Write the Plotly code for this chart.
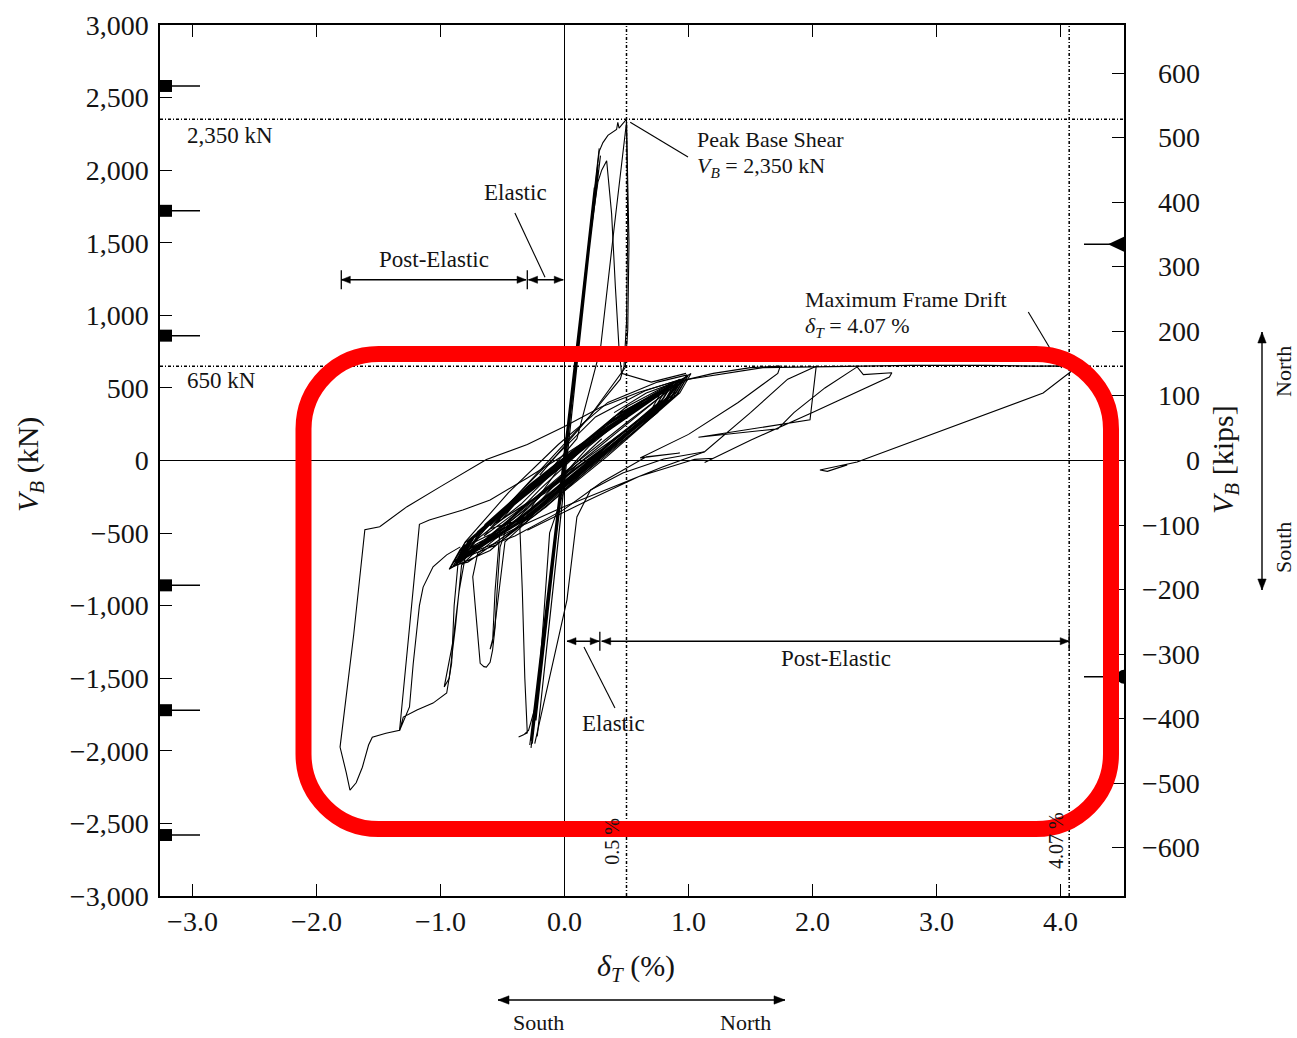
import plotly.graph_objects as go

# ---------------------------------------------------------------------------
# Axis definitions
# ---------------------------------------------------------------------------
X_RANGE = [-3.262, 4.512]          # roof drift, %
Y_RANGE = [-3000, 3000]            # base shear, kN
KN_TO_KIPS = 0.224809

x_ticks = [-3, -2, -1, 0, 1, 2, 3, 4]
x_tick_text = ["−3.0", "−2.0", "−1.0", "0.0", "1.0", "2.0", "3.0", "4.0"]
kn_ticks = [-3000, -2500, -2000, -1500, -1000, -500, 0, 500, 1000, 1500, 2000, 2500, 3000]
kn_tick_text = ["−3,000", "−2,500", "−2,000", "−1,500", "−1,000", "−500", "0",
                "500", "1,000", "1,500", "2,000", "2,500", "3,000"]
kips_ticks = [-600, -500, -400, -300, -200, -100, 0, 100, 200, 300, 400, 500, 600]
kips_tick_text = ["−600", "−500", "−400", "−300", "−200", "−100", "0",
                  "100", "200", "300", "400", "500", "600"]

# Reference levels
peak_shear_kN = 2350
plateau_shear_kN = 650
elastic_limit_drift = 0.5
max_drift = 4.07
capacity_levels_kN = [2580, 1720, 860, -860, -1720, -2580]
right_levels_kN = [1490, -1490]

# Elastic / post-elastic ranges (drift %)
south_post_elastic = [-1.80, -0.31]
south_elastic = [-0.29, -0.01]
north_elastic = [0.02, 0.28]
north_post_elastic = [0.30, 4.07]
range_arrow_kN = [1245, -1245]

# ---------------------------------------------------------------------------
# Measured hysteresis: drift (%) vs base shear (kN), by stage
# ---------------------------------------------------------------------------
elastic_drift = [0.00, 0.06, -0.05, 0.10, -0.09, 0.14, -0.13, 0.18, -0.17, 0.22, -0.21,
                 0.25, -0.24, 0.27, -0.26, 0.28, -0.27, 0.26, -0.25, 0.29, -0.28, 0.27,
                 -0.23, 0.24, -0.26, 0.25, -0.22, 0.27, -0.27, 0.02]
elastic_shear = [0, 480, -330, 800, -620, 1090, -910, 1400, -1200, 1700, -1500,
                 1930, -1720, 2060, -1870, 2150, -1930, 1990, -1840, 2100, -1960, 2040,
                 -1790, 1880, -1950, 1860, -1900, 2000, -1980, 80]

peak_drift = [0.02, 0.15, 0.28, 0.31, 0.35, 0.40, 0.42, 0.43, 0.44, 0.47, 0.50, 0.51,
              0.50, 0.48, 0.45, 0.20, -0.10, -0.45, -0.80]
peak_shear = [80, 1150, 2130, 2190, 2240, 2270, 2280, 2330, 2290, 2320, 2350, 1600,
              950, 650, 560, 300, 20, -300, -620]

second_peak_drift = [-0.26, -0.10, 0.05, 0.20, 0.27, 0.30, 0.34, 0.38, 0.41, 0.44, 0.46,
                     0.70, 0.98]
second_peak_shear = [-1900, -750, 380, 1500, 1920, 2000, 2065, 1700, 1200, 770, 600,
                     540, 600]

third_peak_drift = [-0.60, -0.20, 0.10, 0.29, 0.40, 0.50, 0.52, 0.51, 0.49, 0.20, -0.20]
third_peak_shear = [-450, -150, 150, 770, 1600, 2330, 1500, 900, 640, 300, -100]

band_drift = [-0.87, -0.78, -0.31, 0.29, 0.95, 0.86, 0.31, -0.29,
              -0.80, -0.71, -0.28, 0.32, 0.88, 0.80, 0.28, -0.32,
              -0.90, -0.81, -0.33, 0.27, 1.00, 0.91, 0.33, -0.27,
              -0.84, -0.75, -0.30, 0.30, 0.92, 0.83, 0.30, -0.30,
              -0.76, -0.67, -0.27, 0.33, 0.82, 0.74, 0.27, -0.33,
              -0.88, -0.79, -0.32, 0.28, 0.97, 0.88, 0.32, -0.28,
              -0.82, -0.73, -0.29, 0.31, 0.90, 0.82, 0.29, -0.31,
              -0.93, -0.84, -0.34, 0.26, 1.02, 0.93, 0.34, -0.26,
              -0.79, -0.70, -0.26, 0.34, 0.85, 0.77, 0.26, -0.34,
              -0.86, -0.77, -0.30, 0.30, 0.94, 0.85, 0.30, -0.30,
              -0.72, -0.64, -0.28, 0.32, 0.78, 0.71, 0.28, -0.32,
              -0.89, -0.80, -0.31, 0.29, 0.99, 0.90, 0.31, -0.29,
              -0.60, -0.50, -0.10, 0.40, 0.90, 0.82, 0.40, -0.10,
              -0.55, -0.45, -0.05, 0.45, 0.86, 0.78, 0.45, -0.05,
              -0.65, -0.55, -0.15, 0.35, 0.93, 0.84, 0.35, -0.15,
              -0.50, -0.40, 0.00, 0.50, 0.88, 0.80, 0.50, 0.00, -0.85]
band_shear = [-700, -560, -210, 190, 560, 430, 30, -390,
              -640, -500, -175, 215, 520, 400, 40, -380,
              -730, -590, -245, 160, 590, 455, 30, -385,
              -680, -540, -200, 200, 545, 420, 40, -380,
              -600, -470, -160, 235, 490, 380, 50, -370,
              -710, -575, -230, 175, 570, 440, 40, -380,
              -660, -520, -190, 210, 530, 410, 40, -385,
              -750, -610, -260, 150, 600, 465, 25, -390,
              -620, -490, -165, 230, 505, 390, 40, -380,
              -700, -560, -210, 195, 555, 425, 35, -385,
              -560, -440, -165, 240, 470, 365, 50, -375,
              -690, -565, -215, 185, 580, 450, 35, -390,
              -470, -380, -60, 300, 530, 420, 140, -180,
              -430, -340, -20, 330, 520, 410, 170, -140,
              -520, -420, -100, 260, 560, 440, 110, -220,
              -400, -300, 20, 370, 540, 430, 210, -90, -690]

# wider, looser cycles around the dense band
wide_band_drift = [-0.85, -0.70, -0.35, 0.05, 0.50, 0.80, 0.97, 0.90, 0.55, 0.10, -0.30, -0.60,
                   -0.92, -0.80, -0.45, -0.05, 0.35, 0.75, 0.99, 0.85, 0.40, 0.00, -0.40, -0.78,
                   -0.88, -0.60, -0.20, 0.25, 0.65, 0.94, 0.75, 0.30, -0.15, -0.55, -0.90]
wide_band_shear = [-700, -540, -300, 40, 350, 500, 570, 470, 230, -90, -400, -620,
                   -740, -560, -220, 110, 400, 540, 590, 450, 150, -180, -470, -700,
                   -720, -430, -80, 300, 480, 560, 330, 20, -320, -580, -700]

south_outer_drift = [0.95, 0.60, 0.30, 0.00, -0.30, -0.63, -1.00, -1.27, -1.49, -1.61,
                     -1.70, -1.81, -1.76, -1.73, -1.68, -1.63, -1.58, -1.55, -1.44, -1.33,
                     -1.25, -1.17, -1.09, -0.82, -0.60, -0.30, 0.00, 0.40, 0.80]
south_outer_shear = [560, 470, 370, 235, 110, 7, -180, -318, -456, -477,
                     -1200, -1974, -2150, -2270, -2220, -2113, -1960, -1906, -1879, -1858,
                     -1150, -440, -410, -341, -272, -120, 40, 260, 470]

south_mid_drift = [-0.84, -0.95, -1.06, -1.14, -1.17, -1.19, -1.22, -1.25, -1.30, -1.33,
                   -1.30, -1.19, -1.06, -0.95, -0.91, -0.89, -0.86, -0.60, -0.30, 0.00,
                   0.50, 0.90]
south_mid_shear = [-595, -650, -732, -872, -1000, -1147, -1400, -1698, -1800, -1860,
                   -1767, -1719, -1671, -1602, -1395, -1000, -720, -520, -300, -80,
                   260, 520]

south_dip_c_drift = [-0.30, -0.60, -0.80, -0.85, -0.90, -0.95, -0.97, -0.93, -0.88, -0.83,
                     -0.50, 0.00, 0.50, 0.92]
south_dip_c_shear = [-330, -520, -660, -900, -1250, -1480, -1560, -1500, -1150, -720,
                     -450, -100, 250, 540]

south_dip_b_drift = [-0.20, -0.50, -0.70, -0.74, -0.72, -0.70, -0.68, -0.65, -0.63, -0.60,
                     -0.58, -0.56, -0.55, -0.52, -0.45, -0.20, 0.20, 0.60]
south_dip_b_shear = [-250, -500, -640, -801, -1000, -1190, -1397, -1420, -1423, -1390,
                     -1306, -1150, -983, -596, -420, -200, 120, 380]

south_dip_b2_drift = [0.30, -0.20, -0.52, -0.56, -0.58, -0.60, -0.57, -0.53, -0.48, -0.30, 0.10]
south_dip_b2_shear = [150, -250, -480, -900, -1250, -1300, -1200, -900, -560, -420, -30]

south_dip_a_drift = [0.40, 0.00, -0.25, -0.36, -0.34, -0.32, -0.30, -0.37, -0.33, -0.29,
                     -0.22, -0.17, -0.12, 0.00, 0.40, 0.80]
south_dip_a_shear = [300, 0, -300, -460, -900, -1500, -1877, -1905, -1890, -1860,
                     -1650, -1100, -499, -200, 120, 400]

reload_curve_drift = [-0.24, -0.15, -0.06, 0.02, 0.10, 0.21, 0.47, 0.80, 1.13]
reload_curve_shear = [-1950, -1600, -1250, -960, -389, -203, -86, 10, 60]

north_1_drift = [0.40, 0.66, 0.90, 1.20, 1.50, 1.74, 1.72, 1.40, 1.00, 0.61, 0.93, 0.66,
                 0.30, -0.01, -0.40, -0.80]
north_1_shear = [330, 465, 540, 600, 640, 650, 600, 400, 180, 18, 52, 25,
                 -150, -340, -520, -650]

north_2_drift = [-0.80, -0.40, -0.01, 0.40, 0.79, 1.13, 1.50, 1.80, 2.03, 1.98, 1.08, 1.72,
                 1.85, 2.10, 2.36, 2.41, 2.64, 2.62, 2.00, 1.50, 1.13, 1.20, 1.05, 0.60,
                 0.20, -0.30]
north_2_shear = [-640, -470, -320, -180, -45, 60, 330, 560, 650, 280, 160, 218,
                 330, 500, 645, 592, 604, 575, 330, 140, -14, 15, 8, -110,
                 -270, -480]

north_3_drift = [-0.30, 0.20, 0.60, 1.00, 1.60, 2.20, 2.80, 3.40, 3.80, 4.07, 4.08, 3.86,
                 3.00, 2.36, 2.06, 2.12, 2.28]
north_3_shear = [-380, 100, 380, 560, 640, 650, 655, 655, 650, 652, 610, 465,
                 190, -10, -65, -75, -30]

stages = [
    (elastic_drift, elastic_shear),
    (peak_drift, peak_shear),
    (second_peak_drift, second_peak_shear),
    (third_peak_drift, third_peak_shear),
    (band_drift, band_shear),
    (wide_band_drift, wide_band_shear),
    (south_outer_drift, south_outer_shear),
    (south_mid_drift, south_mid_shear),
    (south_dip_c_drift, south_dip_c_shear),
    (south_dip_b_drift, south_dip_b_shear),
    (south_dip_b2_drift, south_dip_b2_shear),
    (south_dip_a_drift, south_dip_a_shear),
    (reload_curve_drift, reload_curve_shear),
    (north_1_drift, north_1_shear),
    (north_2_drift, north_2_shear),
    (north_3_drift, north_3_shear),
]

# ---------------------------------------------------------------------------
# Page geometry (pixels)
# ---------------------------------------------------------------------------
FIG_W, FIG_H = 1297, 1038
PLOT_L, PLOT_T, PLOT_W, PLOT_H = 160, 25, 964, 871
KN_PER_PX = (Y_RANGE[1] - Y_RANGE[0]) / PLOT_H
DRIFT_PER_PX = (X_RANGE[1] - X_RANGE[0]) / PLOT_W

FONT = "Liberation Serif"
INK = "#141414"


def px_x(px):
    return (px - PLOT_L) / PLOT_W


def px_y(py):
    return (PLOT_T + PLOT_H - py) / PLOT_H


fig = go.Figure()

for d, v in stages:
    fig.add_trace(go.Scatter(x=d, y=v, mode="lines",
                             line=dict(color="black", width=1.1),
                             hoverinfo="skip", showlegend=False))

# keeps the kips axis alive
fig.add_trace(go.Scatter(x=[X_RANGE[1]], y=[0], yaxis="y2", mode="markers",
                         marker=dict(opacity=0), hoverinfo="skip", showlegend=False))

shapes = []
dash = "3px,2px,1px,2px"
for lv in (peak_shear_kN, plateau_shear_kN):
    shapes.append(dict(type="line", xref="paper", yref="y", x0=0, x1=1, y0=lv, y1=lv,
                       line=dict(color="black", width=1.5, dash=dash)))
for dv in (elastic_limit_drift, max_drift):
    shapes.append(dict(type="line", xref="x", yref="paper", x0=dv, x1=dv, y0=0, y1=1,
                       line=dict(color="black", width=1.5, dash=dash)))

# capacity markers on the kN axis
for lv in capacity_levels_kN:
    shapes.append(dict(type="line", xref="paper", yref="y", x0=0, x1=px_x(PLOT_L + 40),
                       y0=lv, y1=lv, line=dict(color="black", width=1.5)))
    shapes.append(dict(type="rect", xref="paper", yref="y", x0=0, x1=px_x(PLOT_L + 12),
                       y0=lv - 6 * KN_PER_PX, y1=lv + 6 * KN_PER_PX,
                       line=dict(width=0), fillcolor="black"))

# markers on the kips axis
for lv in right_levels_kN:
    shapes.append(dict(type="line", xref="paper", yref="y", x0=px_x(PLOT_L + PLOT_W - 40),
                       x1=1, y0=lv, y1=lv, line=dict(color="black", width=1.5)))
tip = px_x(PLOT_L + PLOT_W - 16)
h = 7.5 * KN_PER_PX
shapes.append(dict(type="path", xref="paper", yref="y",
                   path=f"M 1 {right_levels_kN[0] + h} L {tip} {right_levels_kN[0]} "
                        f"L 1 {right_levels_kN[0] - h} Z",
                   fillcolor="black", line=dict(width=0)))
rx = 7 / PLOT_W
ry = 7 * KN_PER_PX
c = right_levels_kN[1]
k = 0.5523
shapes.append(dict(type="path", xref="paper", yref="y",
                   path=(f"M 1 {c + ry} C {1 - k * rx} {c + ry} {1 - rx} {c + k * ry} {1 - rx} {c} "
                         f"C {1 - rx} {c - k * ry} {1 - k * rx} {c - ry} 1 {c - ry} Z"),
                   fillcolor="black", line=dict(width=0)))

# bracket ticks on the elastic / post-elastic range arrows
for dv, lv in ((south_post_elastic[0], range_arrow_kN[0]), (south_post_elastic[1] + 0.01, range_arrow_kN[0]),
               (north_elastic[1] + 0.005, range_arrow_kN[1]), (north_post_elastic[1], range_arrow_kN[1])):
    shapes.append(dict(type="line", xref="x", yref="y", x0=dv, x1=dv,
                       y0=lv - 65, y1=lv + 65, line=dict(color="black", width=1.3)))

# leader lines
leaders = [(-0.40, 1705, -0.157, 1262), (0.53, 2330, 0.996, 2091),
           (0.157, -1285, 0.407, -1705), (3.74, 1023, 4.01, 637)]
for x0, y0, x1, y1 in leaders:
    shapes.append(dict(type="line", xref="x", yref="y", x0=x0, y0=y0, x1=x1, y1=y1,
                       line=dict(color="black", width=1.1)))


def double_arrow(x0, y0, x1, y1, xref, yref, xpp, ypp, head=9.0, half=3.6):
    """Line with a filled head at both ends; xpp/ypp are axis units per pixel."""
    shapes.append(dict(type="line", xref=xref, yref=yref, x0=x0, y0=y0, x1=x1, y1=y1,
                       line=dict(color="black", width=1.4)))
    # direction in pixel space
    dxp = (x1 - x0) / xpp
    dyp = (y1 - y0) / ypp
    length = (dxp ** 2 + dyp ** 2) ** 0.5
    ux, uy = dxp / length, dyp / length
    for (tx, ty), sgn in (((x1, y1), 1), ((x0, y0), -1)):
        bx = tx - sgn * ux * head * xpp
        by = ty - sgn * uy * head * ypp
        px_, py_ = -uy * half, ux * half
        path = (f"M {tx} {ty} L {bx + px_ * xpp} {by + py_ * ypp} "
                f"L {bx - px_ * xpp} {by - py_ * ypp} Z")
        shapes.append(dict(type="path", xref=xref, yref=yref, path=path,
                           fillcolor="black", line=dict(color="black", width=0.5)))


double_arrow(south_post_elastic[0], range_arrow_kN[0], south_post_elastic[1], range_arrow_kN[0],
             "x", "y", DRIFT_PER_PX, KN_PER_PX)
double_arrow(south_elastic[0], range_arrow_kN[0], south_elastic[1], range_arrow_kN[0],
             "x", "y", DRIFT_PER_PX, KN_PER_PX)
double_arrow(north_elastic[0], range_arrow_kN[1], north_elastic[1], range_arrow_kN[1],
             "x", "y", DRIFT_PER_PX, KN_PER_PX)
double_arrow(north_post_elastic[0], range_arrow_kN[1], north_post_elastic[1], range_arrow_kN[1],
             "x", "y", DRIFT_PER_PX, KN_PER_PX)
# direction keys outside the plot
double_arrow(px_x(498), px_y(1000), px_x(785), px_y(1000), "paper", "paper",
             1 / PLOT_W, 1 / PLOT_H, head=11, half=4.2)
double_arrow(px_x(1262), px_y(332), px_x(1262), px_y(590), "paper", "paper",
             1 / PLOT_W, 1 / PLOT_H, head=11, half=4.2)


def rounded_rect(left, top, right, bottom, r):
    kk = 0.5523 * r
    pts = [("M", [(left + r, top)]),
           ("L", [(right - r, top)]),
           ("C", [(right - r + kk, top), (right, top + r - kk), (right, top + r)]),
           ("L", [(right, bottom - r)]),
           ("C", [(right, bottom - r + kk), (right - r + kk, bottom), (right - r, bottom)]),
           ("L", [(left + r, bottom)]),
           ("C", [(left + r - kk, bottom), (left, bottom - r + kk), (left, bottom - r)]),
           ("L", [(left, top + r)]),
           ("C", [(left, top + r - kk), (left + r - kk, top), (left + r, top)])]
    out = []
    for cmd, ps in pts:
        out.append(cmd + " " + " ".join(f"{px_x(a):.5f},{px_y(b):.5f}" for a, b in ps))
    return " ".join(out) + " Z"


shapes.append(dict(type="path", xref="paper", yref="paper", layer="above",
                   path=rounded_rect(303.5, 354, 1111, 829, 75),
                   line=dict(color="#ff0000", width=16)))

ann = []


def label(x, y, text, size=23, xanchor="center", xref="x", yref="y", angle=0):
    ann.append(dict(x=x, y=y, xref=xref, yref=yref, text=text, showarrow=False,
                    xanchor=xanchor, yanchor="middle", textangle=angle,
                    font=dict(family=FONT, size=size, color=INK)))


label(px_x(185), 2242, "2,350 kN", xanchor="left", xref="paper")
label(px_x(185), 548, "650 kN", xanchor="left", xref="paper")
label(1.052, 2208, "Peak Base Shear", size=22, xanchor="left")
label(1.052, 2022, "<i>V</i><sub><i>B</i></sub> = 2,350 kN", size=22, xanchor="left")
label(-0.399, 1843, "Elastic")
label(-1.052, 1388, "Post-Elastic")
label(1.923, 1108, "Maximum Frame Drift", size=22, xanchor="left")
label(1.923, 920, "<i>δ</i><sub><i>T</i></sub> = 4.07 %", size=22, xanchor="left")
label(2.19, -1361, "Post-Elastic")
label(0.399, -1815, "Elastic")
label(0.383, -2620, "0.5 %", size=20, angle=-90)
label(3.964, -2620, "4.07 %", size=20, angle=-90)

# kips tick labels, right aligned
for kv, kt in zip(kips_ticks, kips_tick_text):
    ann.append(dict(x=px_x(1202), y=kv, xref="paper", yref="y2", text=kt, showarrow=False,
                    xanchor="right", yanchor="middle",
                    font=dict(family=FONT, size=28, color=INK)))

# axis titles and direction labels
label(px_x(636), px_y(968), "<i>δ</i><sub><i>T</i></sub> (%)", size=30,
      xref="paper", yref="paper")
label(px_x(30), px_y(465), "<i>V</i><sub><i>B</i></sub> (kN)", size=30,
      xref="paper", yref="paper", angle=-90)
label(px_x(1225), px_y(460), "<i>V</i><sub><i>B</i></sub> [kips]", size=30,
      xref="paper", yref="paper", angle=-90)
label(px_x(538), px_y(1022), "South", size=22, xref="paper", yref="paper")
label(px_x(745), px_y(1022), "North", size=22, xref="paper", yref="paper")
label(px_x(1283), px_y(372), "North", size=22, xref="paper", yref="paper", angle=-90)
label(px_x(1283), px_y(548), "South", size=22, xref="paper", yref="paper", angle=-90)

axis_common = dict(showgrid=False, showline=True, linecolor="black", linewidth=1.5,
                   ticks="inside", ticklen=12, tickwidth=1.4, tickcolor="black",
                   tickfont=dict(family=FONT, size=28, color=INK))

fig.update_layout(
    width=FIG_W, height=FIG_H, autosize=False,
    margin=dict(l=PLOT_L, r=FIG_W - PLOT_L - PLOT_W, t=PLOT_T, b=FIG_H - PLOT_T - PLOT_H,
                autoexpand=False),
    paper_bgcolor="white", plot_bgcolor="white",
    xaxis=dict(range=X_RANGE, tickvals=x_ticks, ticktext=x_tick_text, mirror="ticks",
               zeroline=True, zerolinecolor="black", zerolinewidth=1.4,
               ticklabelstandoff=0, **axis_common),
    yaxis=dict(range=Y_RANGE, tickvals=kn_ticks, ticktext=kn_tick_text, mirror=False,
               zeroline=True, zerolinecolor="black", zerolinewidth=1.4,
               ticklabelstandoff=4, **axis_common),
    yaxis2=dict(range=[Y_RANGE[0] * KN_TO_KIPS, Y_RANGE[1] * KN_TO_KIPS], overlaying="y",
                side="right", tickvals=kips_ticks, showticklabels=False, zeroline=False,
                **axis_common),
    shapes=shapes, annotations=ann, showlegend=False,
)

fig.write_html("out.html")
